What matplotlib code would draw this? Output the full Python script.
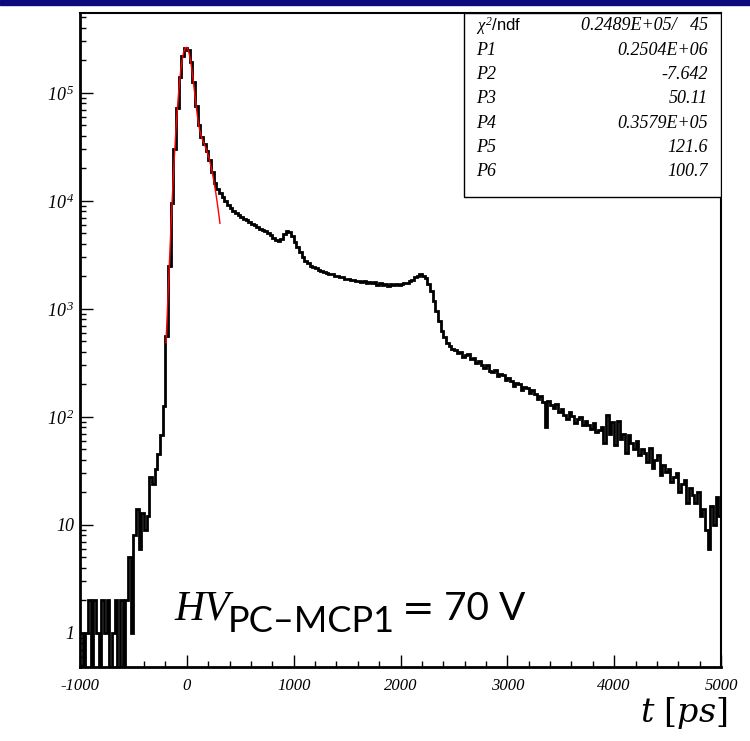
import numpy as np
import matplotlib.pyplot as plt
from matplotlib.patches import Rectangle
from matplotlib.ticker import FixedLocator, LogLocator, MultipleLocator, NullFormatter

# ROOT style italic Times-like numbers, also inside mathtext
plt.rcParams['mathtext.fontset'] = 'custom'
plt.rcParams['mathtext.rm'] = 'Liberation Serif:italic'
plt.rcParams['mathtext.it'] = 'Liberation Serif:italic'
plt.rcParams['axes.unicode_minus'] = False

# time histogram, 25 ps bins from -1000 to 5000 ps (one row = 250 ps)
bin_width = 25
t_start, t_stop = -1000, 5000
counts = [
    1, 0, 1, 2, 0, 2, 1, 0, 2, 1,
    2, 0, 1, 2, 0, 2, 0, 2, 5, 1,
    8, 14, 6, 13, 9, 12, 28, 24, 33, 45,
    68, 125, 560, 2500, 9600, 30000, 73000, 142000, 218000, 262000,
    251000, 193000, 125000, 76000, 50500, 39500, 33500, 28800, 23800, 18600,
    14800, 12900, 11800, 10800, 9900, 9200, 8600, 8100, 7700, 7350,
    7100, 6850, 6600, 6400, 6150, 5950, 5750, 5550, 5400, 5250,
    5050, 4800, 4550, 4350, 4300, 4450, 4900, 5300, 5200, 4700,
    4150, 3750, 3380, 3050, 2800, 2650, 2520, 2440, 2380, 2300,
    2270, 2190, 2170, 2110, 2090, 2030, 2010, 1960, 1960, 1910,
    1910, 1850, 1870, 1810, 1830, 1780, 1800, 1740, 1790, 1740,
    1760, 1680, 1740, 1650, 1720, 1640, 1710, 1650, 1720, 1670,
    1700, 1730, 1750, 1810, 1860, 1960, 2030, 2090, 2000, 1920,
    1720, 1460, 1190, 960, 780, 630, 545, 480, 450, 425,
    415, 392, 398, 360, 372, 381, 342, 350, 318, 330,
    300, 282, 306, 268, 262, 275, 238, 252, 244, 222,
    228, 214, 195, 208, 200, 176, 190, 184, 166, 178,
    162, 148, 155, 138, 80, 142, 128, 120, 131, 112,
    118, 104, 96, 110, 102, 88, 95, 99, 84, 92,
    85, 78, 88, 72, 76, 80, 58, 104, 70, 90,
    55, 92, 62, 70, 46, 68, 58, 50, 60, 44,
    50, 46, 38, 52, 34, 40, 44, 29, 36, 31,
    33, 25, 28, 30, 20, 24, 26, 16, 22, 19,
    16, 20, 12, 14, 9, 6, 15, 10, 18, 12,
]

# red fit curve
fit_t = [-195, -180, -165, -150, -135, -120, -105, -90, -75, -60, -45, -30,
         -15, 0, 15, 30, 45, 60, 75, 90, 105, 120, 135, 150, 170, 190,
         210, 230, 250, 270, 290, 310]
fit_y = [486, 1078, 2427, 5359, 11276, 22248, 40705, 68714, 106660, 151970,
         198640, 238115, 261950, 264760, 246550, 212565, 171105, 130445,
         96484, 71607, 55339, 45566, 39829, 36169, 32357, 28522, 24364,
         20053, 15876, 12083, 8841, 6219]

stat_labels = [r'$\chi^{2}$/ndf', 'P1', 'P2', 'P3', 'P4', 'P5', 'P6']
stat_values = ['0.2489E+05/   45', '0.2504E+06', '-7.642', '50.11',
               '0.3579E+05', '121.6', '100.7']

xtick_vals = [-1000, 0, 1000, 2000, 3000, 4000, 5000]
xtick_text = ['-1000', '0', '1000', '2000', '3000', '4000', '5000']
ytick_vals = [1, 10, 100, 1000, 10000, 100000]
ytick_text = ['1', '10', r'$10^{\,2}$', r'$10^{\,3}$', r'$10^{\,4}$', r'$10^{\,5}$']

W, H = 750, 741
fig = plt.figure(figsize=(W / 100, H / 100), dpi=100)

# navy bar along the top of the slide
fig.patches.append(Rectangle((0, 1 - 5 / H), 1, 5 / H, transform=fig.transFigure,
                             color='#0b0b7e', zorder=0))

ax = fig.add_axes([80 / W, (H - 667) / H, 641 / W, 654 / H])
edges = np.arange(t_start, t_stop + bin_width, bin_width)
ax.stairs(counts, edges, color='black', lw=2.0, baseline=None)
ax.plot(fit_t, fit_y, color='red', lw=1.0)

ax.set_yscale('log', nonpositive='clip')
ax.set_xlim(t_start, t_stop)
ax.set_ylim(0.484, 5.5e5)

ax.xaxis.set_major_locator(FixedLocator(xtick_vals))
ax.set_xticklabels(xtick_text, fontfamily='Liberation Serif', fontstyle='italic', fontsize=12)
ax.xaxis.set_minor_locator(MultipleLocator(200))
ax.yaxis.set_major_locator(FixedLocator(ytick_vals))
ax.set_yticklabels(ytick_text, fontfamily='Liberation Serif', fontstyle='italic', fontsize=13)
ax.yaxis.set_minor_locator(LogLocator(base=10, subs=np.arange(2, 10)))
ax.yaxis.set_minor_formatter(NullFormatter())

ax.tick_params(which='both', direction='in', top=False, right=False, width=1.0)
ax.tick_params(which='major', length=9)
ax.tick_params(which='minor', length=4.5)
ax.tick_params(axis='x', which='major', pad=8)
ax.tick_params(axis='y', which='major', pad=4)
for side in ['left', 'bottom']:
    ax.spines[side].set_linewidth(2.0)
for side in ['top', 'right']:
    ax.spines[side].set_linewidth(1.5)

# stats box
def ax_xy(px, py):
    return (px - 80) / 641, (667 - py) / 654

bx0, by0 = ax_xy(464, 197)
ax.add_patch(Rectangle((bx0, by0), 1 - bx0, 1 - by0, transform=ax.transAxes,
                       facecolor='white', edgecolor='black', lw=1.0, zorder=5))
for i, (lab, val) in enumerate(zip(stat_labels, stat_values)):
    yc = 26 + 24.3 * i
    lx, ly = ax_xy(476, yc)
    vx, _ = ax_xy(708, yc)
    if i == 0:
        ax.text(lx, ly, lab, transform=ax.transAxes, ha='left', va='center',
                fontfamily='Liberation Sans', fontsize=12, zorder=6)
    else:
        ax.text(lx, ly, lab, transform=ax.transAxes, ha='left', va='center',
                fontfamily='Liberation Serif', fontstyle='italic', fontsize=13, zorder=6)
    ax.text(vx, ly, val, transform=ax.transAxes, ha='right', va='center',
            fontfamily='Liberation Serif', fontstyle='italic', fontsize=13, zorder=6)

# annotation and axis title
fig.text(174 / W, 1 - 620 / H, 'HV', fontfamily='Liberation Serif', fontstyle='italic',
         fontsize=30, ha='left', va='baseline')
fig.text(228 / W, 1 - 632 / H, 'PC\u2013MCP1', fontfamily='Lato', fontsize=26,
         ha='left', va='baseline')
fig.text(402 / W, 1 - 621 / H, '=', fontfamily='DejaVu Sans', fontsize=28,
         ha='left', va='baseline')
fig.text(444 / W, 1 - 620 / H, '70 V', fontfamily='Lato', fontsize=28,
         ha='left', va='baseline')
fig.text(640 / W, 1 - 722 / H, r'$t\ [ps]$', math_fontfamily='dejavuserif',
         fontsize=24, ha='left', va='baseline')

fig.savefig('out.png', dpi=100)
